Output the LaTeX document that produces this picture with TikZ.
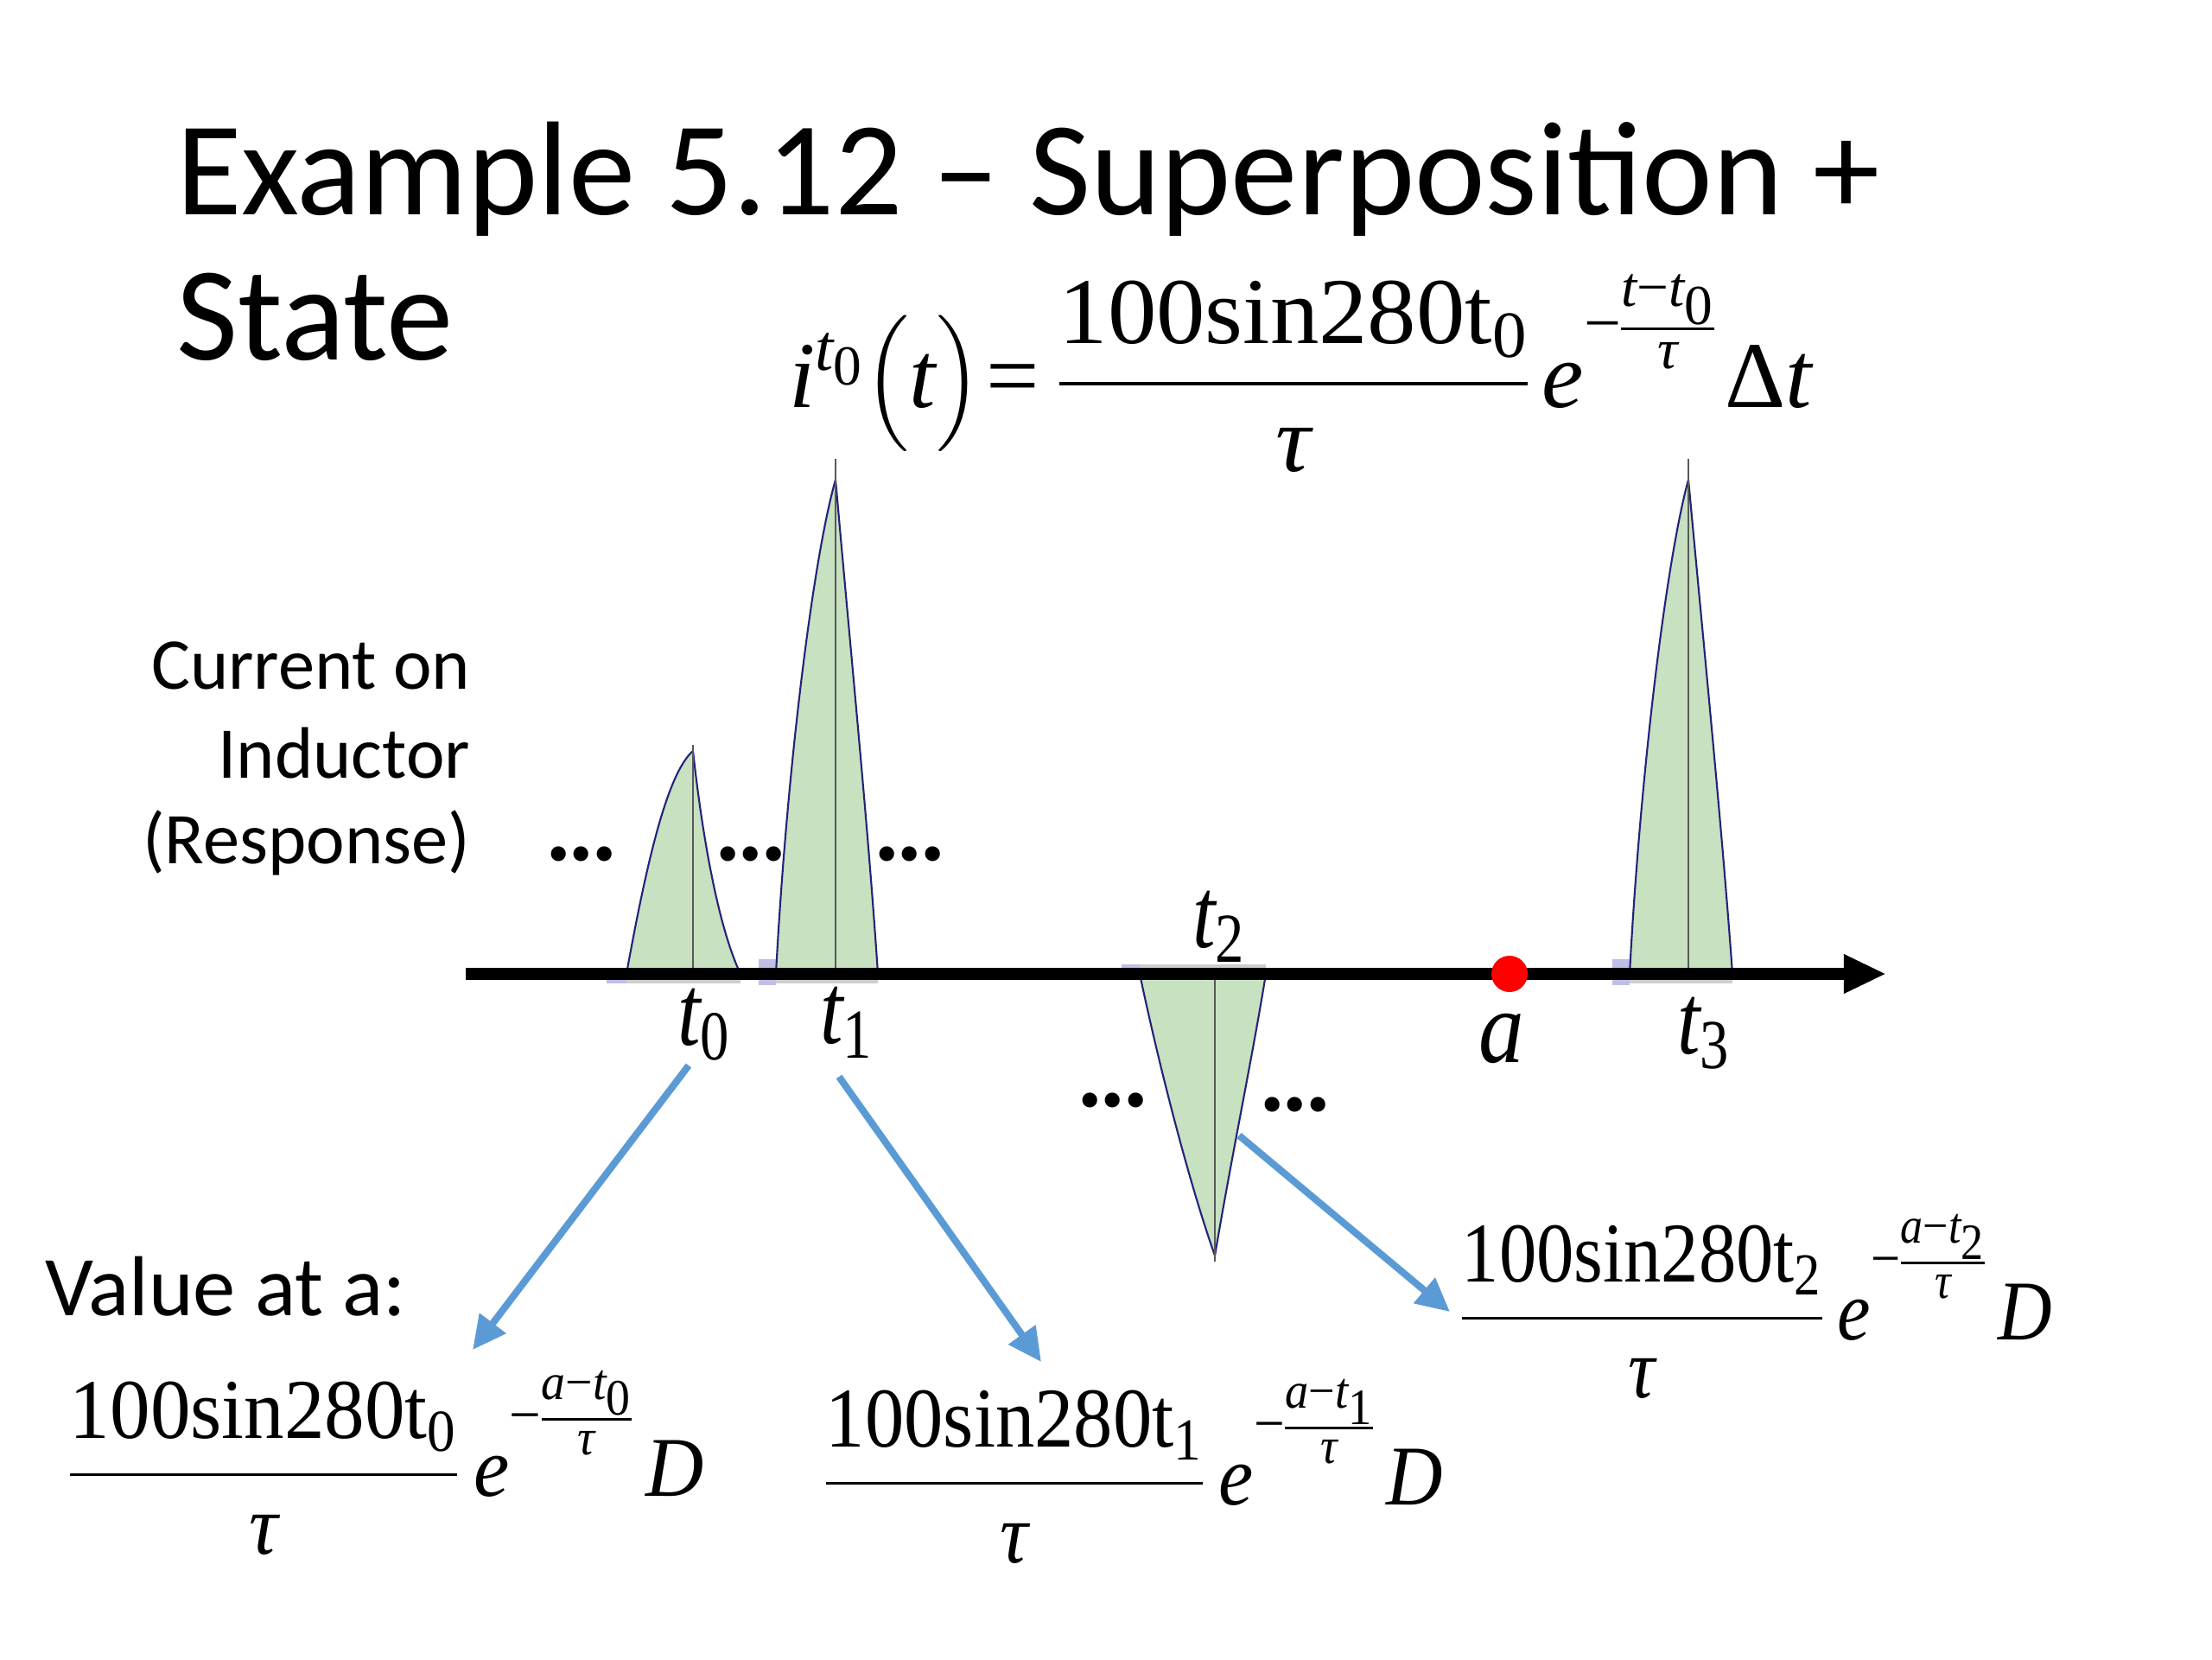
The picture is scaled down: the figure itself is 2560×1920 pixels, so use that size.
\documentclass[tikz,border=0pt]{standalone}
\usepackage{fix-cm}
\usepackage{amsmath}
\usepackage{graphicx}
\usepackage{fontspec}
\setmainfont{Carlito}
\newfontfamily\tms{Liberation Serif}
\usetikzlibrary{arrows.meta}
\renewcommand\defaultscriptscriptratio{.6}
\newcommand\tx[1]{\text{\tms\upshape #1}}
\newcommand\ti[1]{\text{\tms\itshape #1}}
\newcommand\expo[2]{\raisebox{#1}{$\scriptstyle\tx{−}\mkern-1mu#2$}}
\definecolor{pulsefill}{RGB}{199,225,193}
\definecolor{pulseedge}{RGB}{35,35,120}
\definecolor{arrowblue}{RGB}{91,155,213}
\definecolor{bandgray}{RGB}{205,205,205}
\definecolor{lavender}{RGB}{190,190,230}
\tikzset{
  txt/.style={inner sep=0pt, outer sep=0pt},
  pulse/.style={fill=pulsefill, draw=pulseedge, line width=0.6pt, line join=round},
  stem/.style={draw=black!65, line width=0.4pt},
  band/.style={fill=bandgray, draw=none},
  lav/.style={fill=lavender, draw=none},
  link/.style={draw=arrowblue, line width=2.3pt, -{Triangle[length=11pt,width=10.5pt]}},
  axisline/.style={draw=black, line width=3.8pt, -{Triangle[length=14pt,width=12pt]}},
}
\begin{document}
\begin{tikzpicture}[x=0.01cm, y=-0.01cm]
\useasboundingbox (0,0) rectangle (2560,1920);

% title
\node[txt, anchor=base west] (title1) at (204,248) {\fontsize{44}{52}\selectfont Example 5.12 – Superposition +};
\node[txt, anchor=base west] (title2) at (204,416) {\fontsize{44}{52}\selectfont State};

% main formula
\node[txt, anchor=base west] (eqmain) at (913,471) {\fontsize{31}{37}\selectfont
 $\ti{i}^{\ti{t}_{\tx{0}}}\bigl(\ti{t}\bigr)\mkern1mu\tx{=}\mkern3mu\scalebox{1.035}[1]{$\displaystyle\frac{\tx{100sin280t}_{\tx{0}}}{\ti{τ}}$}\mkern2mu\ti{e}^{\expo{9pt}{\frac{\ti{t}\tx{−}\ti{t}_{\tx{0}}}{\ti{τ}}}}\mkern1mu\tx{Δ}\ti{t}$};

% left labels
\node[txt, anchor=base east] (lab1) at (544,797) {\fontsize{24}{29}\selectfont Current on};
\node[txt, anchor=base east] (lab2) at (544,900) {\fontsize{24}{29}\selectfont Inductor};
\node[txt, anchor=base east] (lab3) at (544,999) {\fontsize{24}{29}\selectfont (Response)};
\node[txt, anchor=base west] (valat) at (52,1522) {\fontsize{28}{34}\selectfont Value at a:};

% pulses
% pulse 0
\path[band] (725,1127) rectangle (857,1138);
\path[lav] (702,1127) rectangle (725,1138);
\draw[pulse] (725,1127) .. controls (748,1000) and (772,895) .. (802,869)
  .. controls (812,960) and (830,1070) .. (857,1127) -- cycle;
\draw[stem] (802,1127) -- (802,862);
% pulse 1
\path[band] (898,1127) rectangle (1016,1138);
\path[lav] (878,1110) rectangle (898,1140);
\draw[pulse] (898,1127) .. controls (910,900) and (940,650) .. (967,555)
  .. controls (985,760) and (1005,960) .. (1016,1127) -- cycle;
\draw[stem] (967,1127) -- (967,531);
% pulse 2
\path[band] (1319,1116) rectangle (1465,1127);
\path[lav] (1298,1116) rectangle (1319,1127);
\draw[pulse] (1319,1127) .. controls (1345,1250) and (1380,1380) .. (1406,1453)
  .. controls (1425,1340) and (1450,1220) .. (1465,1127) -- cycle;
\draw[stem] (1406,1127) -- (1406,1460);
% pulse 3
\path[band] (1886,1127) rectangle (2005,1138);
\path[lav] (1866,1110) rectangle (1886,1140);
\draw[pulse] (1886,1127) .. controls (1898,900) and (1928,650) .. (1954,555)
  .. controls (1973,760) and (1993,960) .. (2005,1127) -- cycle;
\draw[stem] (1954,1127) -- (1954,531);

% axis
\coordinate (axstart) at (539,1127);
\coordinate (axend) at (2183,1127);
\draw[axisline] (axstart) -- (axend);

% point a
\fill[red] (1747,1127) circle[radius=0.21cm];

% dots
\node[txt] (dots1) at (673,988) {\tms\bfseries\fontsize{30}{30}\selectfont ...};
\node[txt] (dots2) at (869,988) {\tms\bfseries\fontsize{30}{30}\selectfont ...};
\node[txt] (dots3) at (1053,988) {\tms\bfseries\fontsize{30}{30}\selectfont ...};
\node[txt] (dots4) at (1288,1273) {\tms\bfseries\fontsize{30}{30}\selectfont ...};
\node[txt] (dots5) at (1499,1278) {\tms\bfseries\fontsize{30}{30}\selectfont ...};

% axis labels
\node[txt, anchor=base west] (lt0) at (784,1209) {\fontsize{33}{40}\selectfont \scalebox{0.82}[1]{$\ti{t}_{\tx{0}}$}};
\node[txt, anchor=base west] (lt1) at (949,1207) {\fontsize{33}{40}\selectfont \scalebox{0.82}[1]{$\ti{t}_{\tx{1}}$}};
\node[txt, anchor=base west] (lt2) at (1380,1096) {\fontsize{33}{40}\selectfont \scalebox{0.82}[1]{$\ti{t}_{\tx{2}}$}};
\node[txt, anchor=base west] (lt3) at (1941,1219) {\fontsize{33}{40}\selectfont \scalebox{0.82}[1]{$\ti{t}_{\tx{3}}$}};
\node[txt, anchor=base west] (la) at (1711,1229) {\fontsize{34}{40}\selectfont \scalebox{0.88}[1]{$\ti{a}$}};

% value formulas
\node[txt, anchor=base west] (f0) at (77,1731) {\fontsize{28}{34}\selectfont \scalebox{0.945}[1]{%
 $\dfrac{\tx{100sin280t}_{\tx{0}}}{\ti{τ}}\mkern3mu\ti{e}^{\expo{10pt}{\frac{\ti{a}\tx{−}\ti{t}_{\tx{0}}}{\ti{τ}}}}\mkern2mu\ti{D}$}};
\node[txt, anchor=base west] (f1) at (952,1741) {\fontsize{28}{34}\selectfont \scalebox{0.92}[1]{%
 $\dfrac{\tx{100sin280t}_{\tx{1}}}{\ti{τ}}\mkern3mu\ti{e}^{\expo{10pt}{\frac{\ti{a}\tx{−}\ti{t}_{\tx{1}}}{\ti{τ}}}}\mkern2mu\ti{D}$}};
\node[txt, anchor=base west] (f2) at (1688,1550) {\fontsize{28}{34}\selectfont \scalebox{0.88}[1]{%
 $\dfrac{\tx{100sin280t}_{\tx{2}}}{\ti{τ}}\mkern3mu\ti{e}^{\expo{10pt}{\frac{\ti{a}\tx{−}\ti{t}_{\tx{2}}}{\ti{τ}}}}\mkern2mu\ti{D}$}};

% blue arrows
\coordinate (a0s) at (797,1233);
\coordinate (a0e) at (547,1562);
\coordinate (a1s) at (971,1246);
\coordinate (a1e) at (1205,1576);
\coordinate (a2s) at (1434,1314);
\coordinate (a2e) at (1678,1518);
\draw[link] (a0s) -- (a0e);
\draw[link] (a1s) -- (a1e);
\draw[link] (a2s) -- (a2e);
\end{tikzpicture}
\end{document}
